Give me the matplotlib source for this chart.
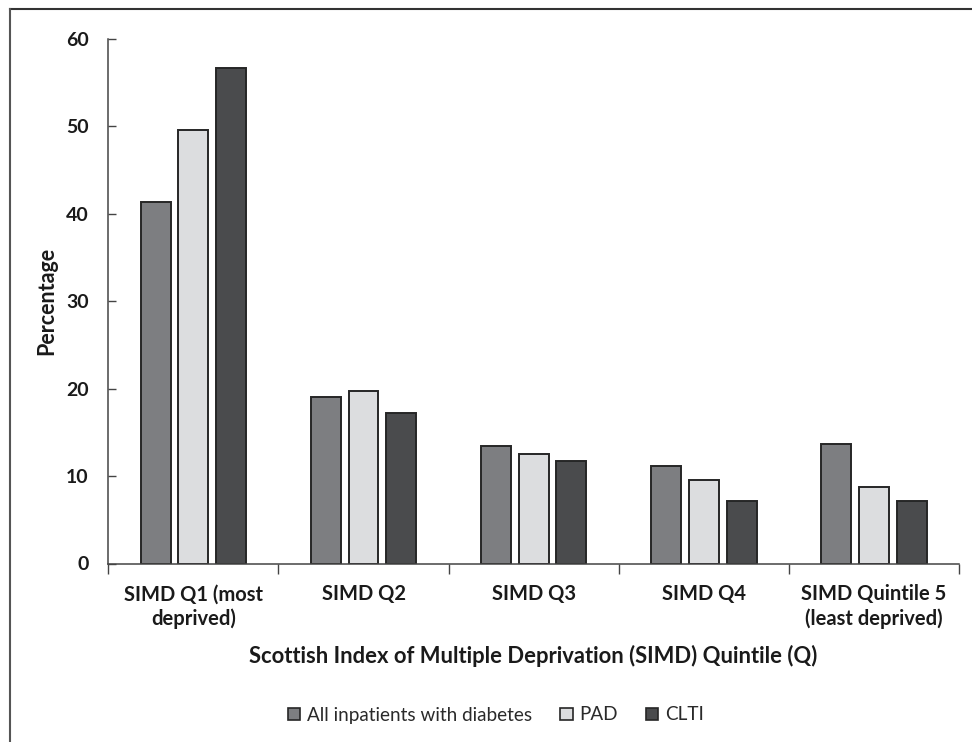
import numpy as np
import matplotlib
matplotlib.use("Agg")
import matplotlib.pyplot as plt
from matplotlib.lines import Line2D
from matplotlib.patches import Patch

# ==========================================
# Data
# ==========================================
CATEGORIES = ["SIMD Q1 (most\ndeprived)", "SIMD Q2", "SIMD Q3", "SIMD Q4",
              "SIMD Quintile 5\n(least deprived)"]
ALL_DIABETES = [41.3, 19.0, 13.4, 11.2, 13.7]
PAD = [49.6, 19.7, 12.5, 9.5, 8.8]
CLTI = [56.7, 17.2, 11.7, 7.1, 7.1]

SERIES = [
    ("All inpatients with diabetes", ALL_DIABETES, "#7d7e81"),
    ("PAD", PAD, "#dcdddf"),
    ("CLTI", CLTI, "#4a4b4d"),
]

plt.rcParams['font.family'] = ['Lato', 'DejaVu Sans']

fig = plt.figure(figsize=(9.72, 7.42), dpi=100)
ax = fig.add_axes([108.3 / 972, 1 - 563.5 / 742, (959 - 108.3) / 972, (563.5 - 39) / 742])

x = np.arange(len(CATEGORIES))
width = 0.176
offset = 0.222
for i, (name, vals, col) in enumerate(SERIES):
    ax.bar(x + (i - 1) * offset, vals, width=width, color=col,
           edgecolor="#262626", linewidth=1.4, label=name, zorder=2)

ax.set_xlim(-0.5, len(CATEGORIES) - 0.5)
ax.set_ylim(0, 60)
ax.set_yticks(np.arange(0, 61, 10))
ax.tick_params(axis='y', direction='in', length=6, width=1, color="#444444",
               labelsize=14, pad=14, labelcolor="#1a1a1a")
for lab in ax.get_yticklabels():
    lab.set_fontweight('bold')

# boundary ticks below the axis, labels at the centres
ax.set_xticks(np.arange(-0.5, len(CATEGORIES), 1.0))
ax.set_xticklabels([])
ax.tick_params(axis='x', which='major', direction='out', length=7, width=1,
               color="#444444")
ax.set_xticks(x, minor=True)
ax.set_xticklabels(CATEGORIES, minor=True, fontsize=14.5, fontweight='bold',
                   color="#1a1a1a", linespacing=1.25)
ax.tick_params(axis='x', which='minor', length=0, pad=15)

for s in ["top", "right"]:
    ax.spines[s].set_visible(False)
for s in ["left", "bottom"]:
    ax.spines[s].set_color("#444444")
    ax.spines[s].set_linewidth(1.1)

fig.text(47 / 972, 1 - 301 / 742, "Percentage", rotation=90, ha='center', va='center',
         fontsize=15.5, fontweight='bold', color="#1a1a1a")
fig.text(533 / 972, 1 - 656 / 742, "Scottish Index of Multiple Deprivation (SIMD) Quintile (Q)",
         ha='center', va='center', fontsize=15.8, fontweight='bold', color="#1a1a1a")

handles = [Patch(facecolor=c, edgecolor="#262626", linewidth=1.2) for _, _, c in SERIES]
leg = fig.legend(handles, [n for n, _, _ in SERIES], loc='center',
                 bbox_to_anchor=(496 / 972, 1 - 715 / 742), ncol=3, frameon=False,
                 fontsize=13.6, handlelength=0.65, handleheight=0.65, handletextpad=0.35,
                 columnspacing=1.5)
for t in leg.get_texts():
    t.set_color("#2a2a2a")

# outer frame (cropped at right and bottom)
fig.add_artist(Line2D([9.5 / 972, 1.0], [1 - 8.5 / 742] * 2, transform=fig.transFigure,
                      color="#333333", linewidth=1.5))
fig.add_artist(Line2D([9.5 / 972] * 2, [0.0, 1 - 8.5 / 742], transform=fig.transFigure,
                      color="#555555", linewidth=1.5))

fig.savefig("out.png", dpi=100)
